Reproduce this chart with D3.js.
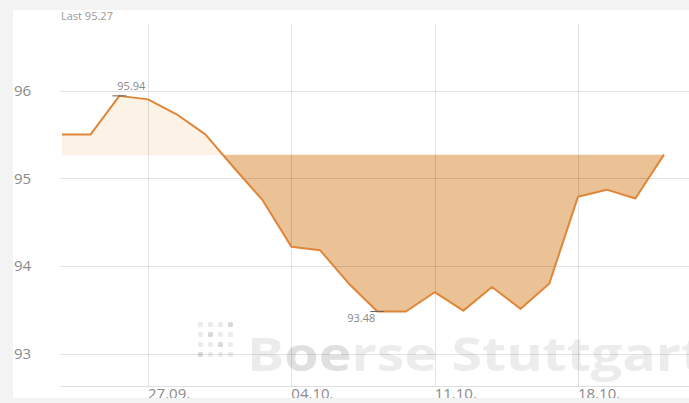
<!DOCTYPE html>
<html>
<head>
<meta charset="utf-8">
<script src="https://cdn.jsdelivr.net/npm/d3@7"></script>
<style>
	body { margin: 0; background: #f3f3f3; }
	svg { display: block; font-family: "Open Sans", sans-serif; }
</style>
</head>
<body>
<svg id="chart" width="689" height="403"></svg>
<script>
// trading days shown on the x axis (index based, weekends skipped)
let days = ["22.09.","23.09.","24.09.","27.09.","28.09.","29.09.","30.09.","01.10.",
	"04.10.","05.10.","06.10.","07.10.","08.10.","11.10.","12.10.","13.10.","14.10.","15.10.",
	"18.10.","19.10.","20.10.","21.10."];
let prices = [95.50, 95.50, 95.94, 95.90, 95.73, 95.50, 95.12, 94.75,
	94.22, 94.18, 93.80, 93.48, 93.48, 93.70, 93.49, 93.76, 93.51, 93.80,
	94.79, 94.87, 94.77, 95.27];
let xTickLabels = ["27.09.","04.10.","11.10.","18.10."];
let yTicks = [93, 94, 95, 96];
let lastPrice = 95.27;

let svg = d3.select("#chart");

let data = prices.map(function (v, i) { return { i: i, day: days[i], v: v }; });

let x = d3.scaleLinear().domain([0, days.length - 1]).range([62, 664]);
let y = d3.scaleLinear().domain([92.63, 96.76]).range([386, 24]);

// white panel
svg.append("defs").append("clipPath").attr("id", "panel")
	.append("rect").attr("x", 13).attr("y", 10).attr("width", 676).attr("height", 388);

let root = svg.append("g").attr("clip-path", "url(#panel)");
root.append("rect").attr("x", 13).attr("y", 10).attr("width", 676).attr("height", 388).attr("fill", "#fff");

// watermark
let logo = root.append("g").attr("class", "watermark");
let dark = ["0-3", "1-1", "2-2", "3-0"];
for (let r = 0; r < 4; r++) {
	for (let c = 0; c < 4; c++) {
		logo.append("rect")
			.attr("x", 198 + c * 10)
			.attr("y", 322 + r * 10)
			.attr("width", 5).attr("height", 5).attr("rx", 1.5)
			.attr("fill", dark.indexOf(r + "-" + c) >= 0 ? "#d9d9d9" : "#ebebeb");
	}
}
let wm = logo.append("text")
	.attr("x", 247).attr("y", 371)
	.attr("font-size", 46).attr("font-weight", "bold")
	.attr("fill", "#ececec")
	.attr("textLength", 458).attr("lengthAdjust", "spacingAndGlyphs");
wm.append("tspan").text("B");
wm.append("tspan").attr("fill", "#e0e0e0").text("oe");
wm.append("tspan").text("rse Stuttgart");

// area between price and last price, split above / below
let base = y(lastPrice);
let defs = svg.select("defs");
defs.append("clipPath").attr("id", "above")
	.append("rect").attr("x", 0).attr("y", 0).attr("width", 689).attr("height", base);
defs.append("clipPath").attr("id", "below")
	.append("rect").attr("x", 0).attr("y", base).attr("width", 689).attr("height", 403 - base);

let area = d3.area()
	.x(function (d) { return x(d.i); })
	.y0(base)
	.y1(function (d) { return y(d.v); });

root.append("path").datum(data)
	.attr("d", area).attr("fill", "#fcf2e6")
	.attr("clip-path", "url(#above)");
root.append("path").datum(data)
	.attr("d", area).attr("fill", "#ebc196")
	.attr("clip-path", "url(#below)");

// grid
let xTicks = xTickLabels.map(function (l) { return days.indexOf(l); });

root.append("g").selectAll("line").data(yTicks).enter()
	.append("line")
	.attr("x1", 60).attr("x2", 689)
	.attr("y1", function (d) { return Math.round(y(d)) + 0.5; })
	.attr("y2", function (d) { return Math.round(y(d)) + 0.5; })
	.attr("stroke", "#000").attr("stroke-opacity", 0.11);

root.append("g").selectAll("line").data(xTicks).enter()
	.append("line")
	.attr("x1", function (d) { return Math.round(x(d)) + 0.5; })
	.attr("x2", function (d) { return Math.round(x(d)) + 0.5; })
	.attr("y1", 24).attr("y2", 386)
	.attr("stroke", "#000").attr("stroke-opacity", 0.11);

root.append("line")
	.attr("x1", 60).attr("x2", 689).attr("y1", 386.5).attr("y2", 386.5)
	.attr("stroke", "#000").attr("stroke-opacity", 0.13);

// price line
root.append("path").datum(data)
	.attr("d", d3.line().x(function (d) { return x(d.i); }).y(function (d) { return y(d.v); }))
	.attr("fill", "none")
	.attr("stroke", "#df8638")
	.attr("stroke-width", 2)
	.attr("stroke-linejoin", "round");

// axis labels
root.append("g").selectAll("text").data(yTicks).enter()
	.append("text")
	.attr("x", 14)
	.attr("y", function (d) { return y(d); })
	.attr("dy", "0.36em")
	.attr("font-size", 15)
	.attr("fill", "#8a8a8a")
	.text(function (d) { return d; });

root.append("g").selectAll("text").data(xTicks).enter()
	.append("text")
	.attr("x", function (d) { return x(d); })
	.attr("y", 399)
	.attr("font-size", 15)
	.attr("fill", "#8a8a8a")
	.text(function (d) { return days[d]; });

// high / low markers
let hi = data.reduce(function (a, b) { return b.v > a.v ? b : a; });
let lo = data.reduce(function (a, b) { return b.v < a.v ? b : a; });

[hi, lo].forEach(function (d) {
	root.append("line")
		.attr("x1", x(d.i) - 7).attr("x2", x(d.i) + 7)
		.attr("y1", y(d.v)).attr("y2", y(d.v))
		.attr("stroke", "#666").attr("stroke-width", 1);
});

root.append("text")
	.attr("x", x(hi.i) - 2).attr("y", y(hi.v) - 6)
	.attr("font-size", 11).attr("fill", "#888")
	.text(hi.v.toFixed(2));

root.append("text")
	.attr("x", x(lo.i) - 2).attr("y", y(lo.v) + 11)
	.attr("text-anchor", "end")
	.attr("font-size", 11).attr("fill", "#888")
	.text(lo.v.toFixed(2));

root.append("text")
	.attr("x", 61).attr("y", 20)
	.attr("font-size", 11).attr("fill", "#999")
	.text("Last " + lastPrice.toFixed(2));
</script>
</body>
</html>
